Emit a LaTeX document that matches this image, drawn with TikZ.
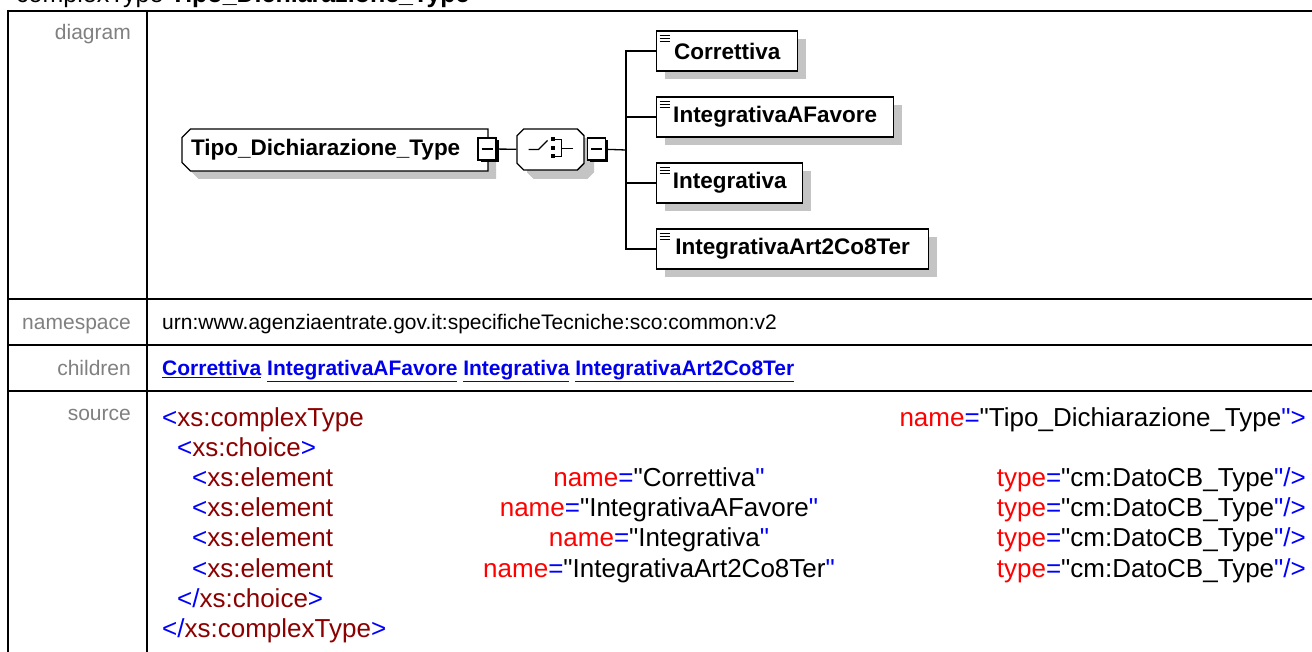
\documentclass[tikz,border=0pt]{standalone}
\usepackage{fontspec}
\setmainfont{Liberation Sans}[Ligatures=TeXOff]
\usepackage{xcolor}
\usepackage{tikz}
\usetikzlibrary{positioning}
\usetikzlibrary{shapes.misc}
\usetikzlibrary{shadows}
\usetikzlibrary{calc}

\definecolor{labelgray}{HTML}{808080}
\definecolor{tagblue}{HTML}{0000FF}
\definecolor{tagred}{HTML}{8B0000}
\definecolor{attrred}{HTML}{FF0000}
\definecolor{linkblue}{HTML}{0000EE}
\definecolor{shadowgray}{HTML}{C4C4C4}

\newcommand{\qq}{"}
\newcommand{\xtag}[1]{\textcolor{tagred}{#1}}
\newcommand{\xsym}[1]{\textcolor{tagblue}{#1}}
\newcommand{\xattr}[2]{\textcolor{attrred}{#1}\xsym{=}\qq#2\xsym{\qq}}

\begin{document}
\begin{tikzpicture}[x=1pt, y=-1pt,
				grid/.style={line width=2pt},
				rowlabel/.style={anchor=base east, inner sep=0pt, text=labelgray,
						font=\fontsize{21}{25}\selectfont},
				cell/.style={anchor=base west, inner sep=0pt,
						font=\fontsize{21}{25}\selectfont},
				src/.style={inner sep=0pt, font=\fontsize{26}{30}\selectfont},
				conn/.style={line width=1.3pt},
				ctype/.style={chamfered rectangle, chamfered rectangle corners={north west,south west},
						chamfered rectangle xsep=5pt, draw, line width=1.3pt, fill=white,
						minimum height=42pt, text width=288pt, align=left, inner xsep=4pt,
						font=\fontsize{22.5}{26}\selectfont\bfseries,
						drop shadow={shadow xshift=8pt, shadow yshift=-8pt, fill=shadowgray, opacity=1}},
				compositor/.style={chamfered rectangle, chamfered rectangle xsep=9pt,
						chamfered rectangle ysep=9pt, draw,
						line width=1.3pt, fill=white, minimum width=67pt, minimum height=41pt,
						drop shadow={shadow xshift=10pt, shadow yshift=-9pt, fill=shadowgray, opacity=1}},
				minusbox/.style={rectangle, draw, line width=1.3pt, fill=white, inner sep=0pt,
						minimum width=18pt, minimum height=22pt,
						drop shadow={shadow xshift=2.5pt, shadow yshift=-2.5pt, fill=black, opacity=1},
						path picture={\draw[line width=1.3pt] ([xshift=-5.5pt]path picture bounding box.center)
								-- ([xshift=5.5pt]path picture bounding box.center);}},
				elem/.style={rectangle, draw, line width=1.3pt, fill=white, inner sep=0pt,
						minimum height=40pt, anchor=west,
						font=\fontsize{22.5}{26}\selectfont\bfseries,
						drop shadow={shadow xshift=8pt, shadow yshift=-8pt, fill=shadowgray, opacity=1},
						path picture={
								\foreach \d in {4.5,7.5,10.5}
									\draw[line width=1.2pt] ($(path picture bounding box.north west)+(3,\d)$) -- ++(10,0);}}
			]

			\fill[white] (0,0) rectangle (1312,652);
			\useasboundingbox (0,0) rectangle (1312,652);

			% Heading (cut by the top edge)
			\node[anchor=base west, inner sep=0pt, font=\fontsize{25}{30}\selectfont] (heading) at (16,3)
				{complexType \textbf{Tipo\_Dichiarazione\_Type}};

			% Table grid
			\draw[grid] (8,11) -- (1320,11);
			\draw[grid] (8,299) -- (1320,299);
			\draw[grid] (8,345) -- (1320,345);
			\draw[grid] (8,391) -- (1320,391);
			\draw[grid] (8,10) -- (8,660);
			\draw[grid] (147,10) -- (147,660);

			% Row labels
			\node[rowlabel] (lbldiagram) at (131,40) {diagram};
			\node[rowlabel] (lblnamespace) at (131,329.5) {namespace};
			\node[rowlabel] (lblchildren) at (131,375.5) {children};
			\node[rowlabel] (lblsource) at (131,420) {source};

			% Diagram
			\node[ctype] (main) at (335,150) {Tipo\_Dichiarazione\_Type};
			\node[minusbox] (mainminus) at (487,149) {};
			\node[compositor] (choice) at (550.5,149.5) {};
			\node[minusbox] (choiceminus) at (596.5,149) {};
			\coordinate (trunk) at (626,150);

			\begin{scope}[shift={(choice.center)}, line width=1.3pt]
				\draw (-22,0) -- (-12,0) -- (-3,-9);
				\fill (0,-12) rectangle (4,-8);
				\fill (0,-3) rectangle (4,1);
				\fill (0,5) rectangle (4,9);
				\draw (4,-10) -- (11,-10) -- (11,7) -- (4,7);
				\draw (11,-1) -- (22,-1);
			\end{scope}

			\node[elem, minimum width=141pt] (c1) at (656,51) {Correttiva};
			\node[elem, minimum width=237pt] (c2) at (656,117) {IntegrativaAFavore};
			\node[elem, minimum width=146pt] (c3) at (656,183) {Integrativa};
			\node[elem, minimum width=272pt] (c4) at (656,249) {IntegrativaArt2Co8Ter};

			\draw[conn] (mainminus) -- (choice);
			\draw[conn] (choiceminus) -- (trunk);
			\foreach \c in {c1,c2,c3,c4}
				\draw[conn] (\c.west) -| (trunk);

			% Namespace and children
			\node[cell] (nsval) at (162,329.5) {urn:www.agenziaentrate.gov.it:specificheTecniche:sco:common:v2};
			\node[cell, text=linkblue, font=\fontsize{21}{25}\selectfont\bfseries] (childval) at (162,375.5)
				{\underline{Correttiva} \underline{IntegrativaAFavore} \underline{Integrativa} \underline{IntegrativaArt2Co8Ter}};

			% Source
			\node[src, anchor=base west] (s1) at (162,426) {\xsym{<}\xtag{xs:complexType}};
			\node[src, anchor=base east] (s1r) at (1306,426) {\xattr{name}{Tipo\_Dichiarazione\_Type}\xsym{>}};
			\node[src, anchor=base west] (s2) at (177,456.2) {\xsym{<}\xtag{xs:choice}\xsym{>}};
			\foreach \i/\nm in {3/Correttiva,4/IntegrativaAFavore,5/Integrativa,6/IntegrativaArt2Co8Ter} {
				\node[src, anchor=base west] (s\i) at (192,426+30.2*\i-30.2) {\xsym{<}\xtag{xs:element}};
				\node[src, anchor=base] (s\i m) at (659,426+30.2*\i-30.2) {\xattr{name}{\nm}};
				\node[src, anchor=base east] (s\i r) at (1306,426+30.2*\i-30.2) {\xattr{type}{cm:DatoCB\_Type}\xsym{/>}};
			}
			\node[src, anchor=base west] (s7) at (177,607.2) {\xsym{</}\xtag{xs:choice}\xsym{>}};
			\node[src, anchor=base west] (s8) at (162,637.4) {\xsym{</}\xtag{xs:complexType}\xsym{>}};

		\end{tikzpicture}
\end{document}
